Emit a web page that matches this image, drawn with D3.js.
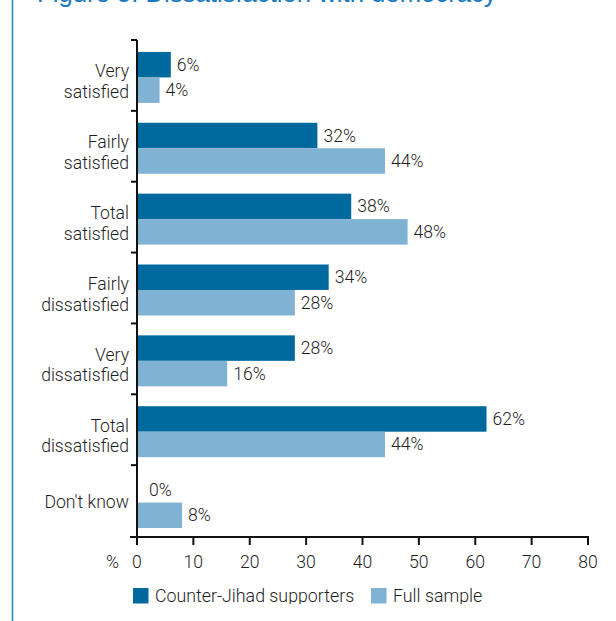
<!DOCTYPE html>
<html>
<head>
<meta charset="utf-8">
<script src="https://cdn.jsdelivr.net/npm/d3@7"></script>
<style>
  html, body { margin: 0; padding: 0; background: #fff; }
  svg { display: block; font-family: Roboto, "Liberation Sans", Arial, sans-serif; }
  .lbl { font-weight: 300; }
</style>
</head>
<body>
<svg id="chart" width="616" height="621"></svg>
<script>
const title = "Figure 5: Dissatisfaction with democracy";
const categories = ["Very\nsatisfied", "Fairly\nsatisfied", "Total\nsatisfied", "Fairly\ndissatisfied", "Very\ndissatisfied", "Total\ndissatisfied", "Don't know"];
const seriesNames = ["Counter-Jihad supporters", "Full sample"];
const counterJihad = [6, 32, 38, 34, 28, 62, 0];
const fullSample = [4, 44, 48, 28, 16, 44, 8];
const xTicks = [0, 10, 20, 30, 40, 50, 60, 70, 80];
const colors = ["#006a9f", "#80b2d3"];

const svg = d3.select("#chart");
const textColor = "#1e1e1e";
const fontSize = 17.6;

// page frame line and title
svg.append("line").attr("x1", 12.5).attr("x2", 12.5).attr("y1", 0).attr("y2", 621)
  .attr("stroke", "#2a86c2").attr("stroke-width", 1.6);
svg.append("text").attr("x", 37).attr("y", 2).attr("font-size", 25.7)
  .attr("font-family", "'Liberation Sans', Arial, sans-serif")
  .attr("fill", "#1a7abf").text(title);

const x = d3.scaleLinear().domain([0, 80]).range([137, 588]);
const y = d3.scaleBand().domain(categories).range([40, 536]);
const sub = d3.scaleBand().domain(seriesNames).range([0, y.bandwidth()])
  .paddingInner(0).paddingOuter(0.39).align(0.6);

const data = categories.map((c, i) => ({ cat: c, values: [counterJihad[i], fullSample[i]] }));

// bars
const groups = svg.append("g").selectAll("g").data(data).join("g")
  .attr("transform", d => `translate(0,${y(d.cat)})`);
groups.selectAll("rect").data(d => d.values.map((v, j) => ({ v, s: seriesNames[j], j })))
  .join("rect")
  .attr("x", x(0))
  .attr("y", d => sub(d.s))
  .attr("width", d => x(d.v) - x(0))
  .attr("height", sub.bandwidth())
  .attr("fill", d => colors[d.j]);
groups.selectAll("text.val").data(d => d.values.map((v, j) => ({ v, s: seriesNames[j], j })))
  .join("text").attr("class", "val lbl")
  .attr("x", d => x(d.v) + (d.v === 0 ? 12 : 6))
  .attr("y", d => sub(d.s) + sub.bandwidth() / 2 + 6)
  .attr("font-size", fontSize).attr("fill", textColor)
  .text(d => d.v + "%");

// y axis
const axisColor = "#111";
svg.append("line").attr("x1", x(0)).attr("x2", x(0)).attr("y1", 40).attr("y2", 537)
  .attr("stroke", axisColor).attr("stroke-width", 2);
const boundaries = categories.map(c => y(c));
svg.append("g").selectAll("line").data(boundaries).join("line")
  .attr("x1", x(0) - 6).attr("x2", x(0)).attr("y1", d => d).attr("y2", d => d)
  .attr("stroke", axisColor).attr("stroke-width", 2);

// category labels
svg.append("g").selectAll("text").data(categories).join("text")
  .attr("class", "lbl")
  .attr("text-anchor", "end").attr("font-size", fontSize).attr("fill", textColor)
  .each(function(c) {
    const lines = c.split("\n");
    const cy = y(c) + y.bandwidth() / 2;
    const t = d3.select(this);
    lines.forEach((ln, i) => {
      t.append("tspan").attr("x", x(0) - 8)
        .attr("y", cy + 7 - (lines.length - 1) * 5 + i * 20.5)
        .text(ln);
    });
  });

// x axis
const axisY = 537;
svg.append("line").attr("x1", x(0) - 7).attr("x2", x(80) + 1).attr("y1", axisY).attr("y2", axisY)
  .attr("stroke", axisColor).attr("stroke-width", 2);
svg.append("g").selectAll("line").data(xTicks).join("line")
  .attr("x1", d => x(d)).attr("x2", d => x(d)).attr("y1", axisY).attr("y2", axisY + 8)
  .attr("stroke", axisColor).attr("stroke-width", 2);
svg.append("g").selectAll("text").data(xTicks).join("text")
  .attr("class", "lbl")
  .attr("x", d => x(d)).attr("y", 568).attr("text-anchor", "middle")
  .attr("font-size", fontSize).attr("fill", textColor).text(d => d);
svg.append("text").attr("class", "lbl").attr("x", 119).attr("y", 568).attr("text-anchor", "end")
  .attr("font-size", fontSize).attr("fill", textColor).text("%");

// legend (clipped at bottom like the source)
svg.append("clipPath").attr("id", "legclip").append("rect")
  .attr("x", 0).attr("y", 570).attr("width", 616).attr("height", 34);
const legend = svg.append("g").attr("clip-path", "url(#legclip)");
const legX = [133, 371];
seriesNames.forEach((s, i) => {
  legend.append("rect").attr("x", legX[i]).attr("y", 588).attr("width", 15.5).attr("height", 15.5)
    .attr("fill", colors[i]);
  legend.append("text").attr("class", "lbl").attr("x", legX[i] + 22).attr("y", 602)
    .attr("font-size", 17.8).attr("fill", textColor).text(s);
});
</script>
</body>
</html>
